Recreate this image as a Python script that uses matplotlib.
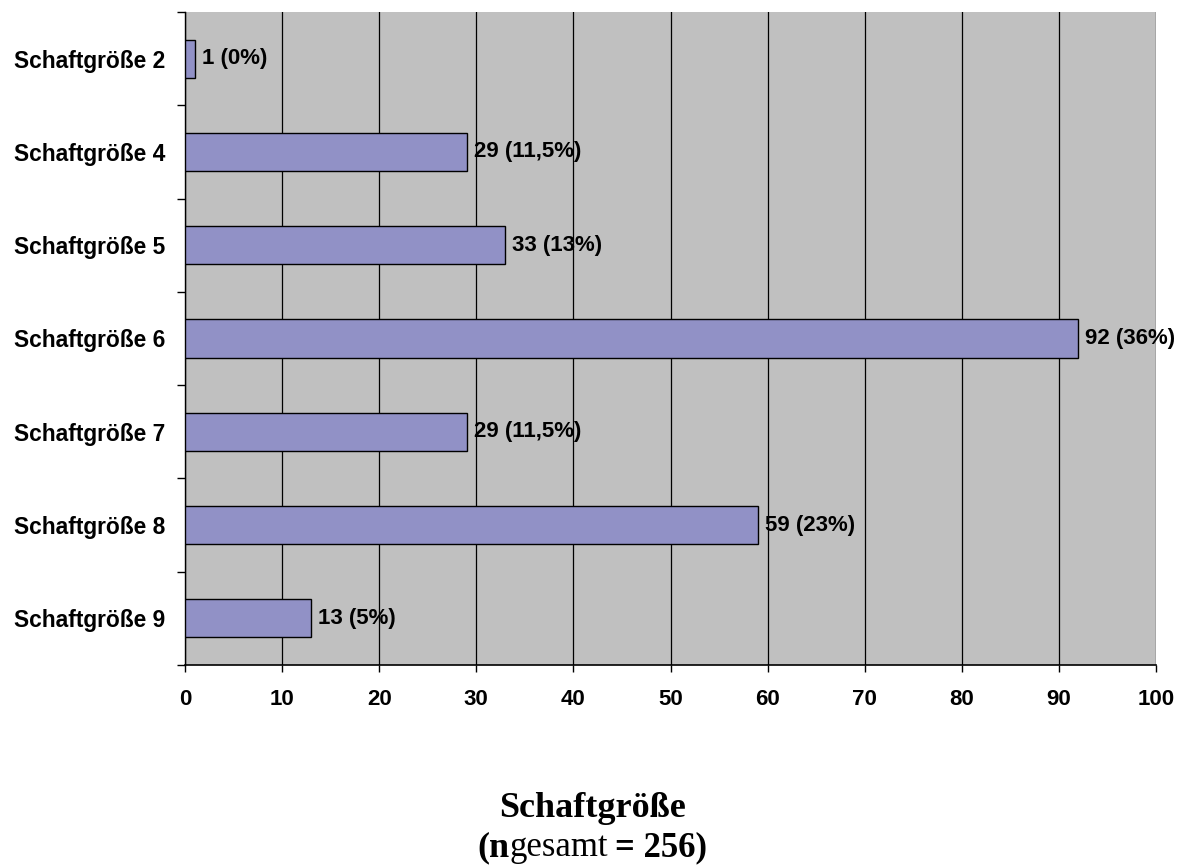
import matplotlib.pyplot as plt
from matplotlib.offsetbox import TextArea, HPacker, AnchoredOffsetbox

categories = ["Schaftgröße 2", "Schaftgröße 4", "Schaftgröße 5", "Schaftgröße 6",
              "Schaftgröße 7", "Schaftgröße 8", "Schaftgröße 9"]
counts = [1, 29, 33, 92, 29, 59, 13]
percents = ["0%", "11,5%", "13%", "36%", "11,5%", "23%", "5%"]
x_ticks = [0, 10, 20, 30, 40, 50, 60, 70, 80, 90, 100]

plt.rcParams['font.family'] = ['Liberation Sans', 'DejaVu Sans']

fig = plt.figure(figsize=(11.85, 8.68), dpi=100)
ax = fig.add_axes([185 / 1185, 1 - 665 / 868, (1156 - 185) / 1185, (665 - 12) / 868])
ax.set_facecolor("#C0C0C0")

pos = list(range(len(categories)))
ax.barh(pos, counts, height=0.41, color="#9191C6", edgecolor="black", linewidth=1, zorder=3)
for p, c, pc in zip(pos, counts, percents):
    ax.annotate(f"{c} ({pc})", xy=(c, p), xytext=(5, 0), textcoords="offset points",
                va="center", ha="left", fontsize=16, fontweight="bold", zorder=4)

ax.set_xlim(0, 100)
ax.set_ylim(len(categories) - 0.5, -0.5)
ax.set_xticks(x_ticks)
ax.set_xticklabels([str(t) for t in x_ticks], fontsize=16, fontweight="bold")
ax.tick_params(axis="x", direction="out", length=5, width=1, pad=12)

ax.set_yticks([i - 0.5 for i in range(len(categories) + 1)])
ax.set_yticklabels([])
ax.set_yticks(pos, minor=True)
ax.set_yticklabels(categories, minor=True, fontsize=16.4, fontweight="bold")
ax.tick_params(axis="y", which="major", direction="out", length=6, width=1)
ax.tick_params(axis="y", which="minor", length=0, pad=14)

ax.grid(axis="x", color="black", linewidth=0.9, zorder=1)
ax.set_axisbelow(True)
ax.spines["top"].set_visible(False)
ax.spines["right"].set_visible(False)
ax.spines["left"].set_linewidth(1)
ax.spines["bottom"].set_linewidth(1.2)

fig.text(0.5, 1 - 817 / 868, "Schaftgröße", ha="center", va="baseline",
         fontsize=26, fontweight="bold", family="Liberation Serif")

line2 = HPacker(children=[
    TextArea("(n", textprops=dict(fontsize=26, fontweight="bold", family="Liberation Serif")),
    TextArea("gesamt", textprops=dict(fontsize=25, family="Liberation Serif")),
    TextArea("\u2009= 256)", textprops=dict(fontsize=25, fontweight="bold", family="Liberation Serif")),
], align="baseline", pad=0, sep=0)
box = AnchoredOffsetbox(loc="center", child=line2, pad=0, frameon=False,
                        bbox_to_anchor=(0.5, 1 - 848 / 868), bbox_transform=fig.transFigure,
                        borderpad=0)
fig.add_artist(box)

fig.savefig("out.png", dpi=100, facecolor="white")
